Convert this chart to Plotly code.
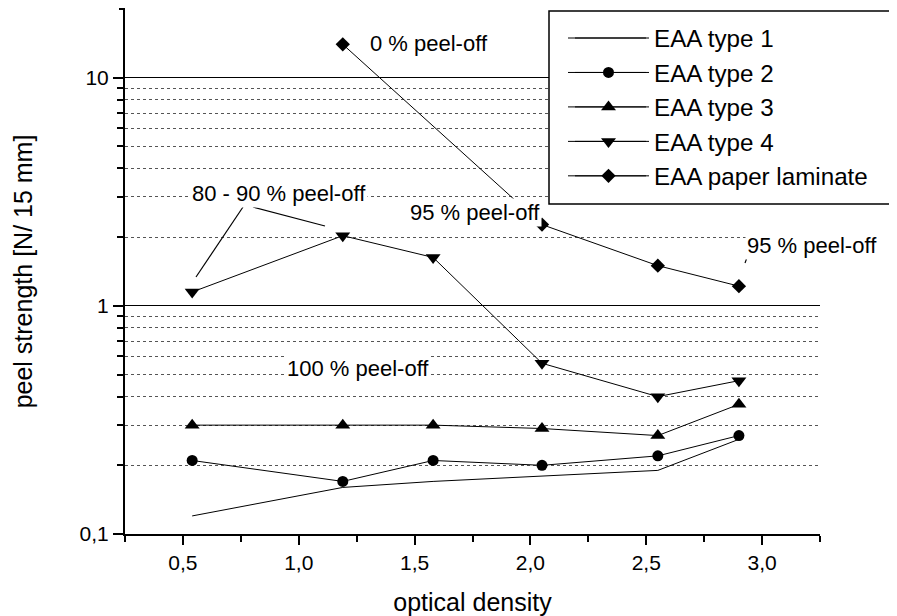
import plotly.graph_objects as go
import math

# ---------------- data ----------------
optical_density = [0.54, 1.19, 1.58, 2.05, 2.55, 2.90]
eaa_type1 = [0.12, 0.16, 0.17, 0.18, 0.19, 0.26]
eaa_type2 = [0.21, 0.17, 0.21, 0.20, 0.22, 0.27]
eaa_type3 = [0.30, 0.30, 0.30, 0.29, 0.27, 0.37]
eaa_type4 = [1.15, 2.03, 1.63, 0.56, 0.40, 0.47]
laminate_density = [1.19, 2.05, 2.55, 2.90]
eaa_laminate = [14.0, 2.27, 1.50, 1.22]

x_tickvals = [0.5, 1.0, 1.5, 2.0, 2.5, 3.0]
y_tickvals = [0.1, 1, 10]
y_ticktext = ["0,1", "1", "10"]
y_minorvals = [0.2, 0.3, 0.4, 0.5, 0.6, 0.7, 0.8, 0.9, 2, 3, 4, 5, 6, 7, 8, 9]

FONT = "Arial, 'Liberation Sans', sans-serif"

fig = go.Figure()
line_style = dict(color="black", width=1)

fig.add_trace(go.Scatter(x=optical_density, y=eaa_type1, name="EAA type 1", mode="lines",
                         line=line_style))
fig.add_trace(go.Scatter(x=optical_density, y=eaa_type2, name="EAA type 2", mode="lines+markers",
                         line=line_style, marker=dict(symbol="circle", size=11, color="black")))
fig.add_trace(go.Scatter(x=optical_density, y=eaa_type3, name="EAA type 3", mode="lines+markers",
                         line=line_style, marker=dict(symbol="triangle-up", size=13, color="black")))
fig.add_trace(go.Scatter(x=optical_density, y=eaa_type4, name="EAA type 4", mode="lines+markers",
                         line=line_style, marker=dict(symbol="triangle-down", size=13, color="black")))
fig.add_trace(go.Scatter(x=laminate_density, y=eaa_laminate, name="EAA paper laminate",
                         mode="lines+markers", line=line_style,
                         marker=dict(symbol="diamond", size=11, color="black")))

# page has an 8px body margin: figure is drawn at page offset (8, 8)
OFF = 8
FIG_W, FIG_H = 897 - OFF, 616 - OFF
# plot area in page pixels: x 125..820, y 9..534
L, R, T, B = 125, 820, 9, 534
W, H = R - L, B - T


def px(xp):
    return (xp - L) / W


def py(yp):
    return (B - yp) / H


# legend geometry (plotly: item height = 1.3*font + 3, first centre = top + 5 + h/2)
LEG_FS = 24.2
LEG_H = 1.3 * LEG_FS + 3
LEG_TOP = 38 - 5 - LEG_H / 2
legend_rows_y = [LEG_TOP + 5 + LEG_H * (i + 0.5) for i in range(5)]

# legend frame (white box with black border) and longer legend line samples
fig.add_shape(type="rect", xref="paper", yref="paper", x0=px(549), x1=px(897), y0=py(204), y1=py(11),
              fillcolor="white", line=dict(color="black", width=1.5), layer="above")
for ry in legend_rows_y:
    fig.add_shape(type="line", xref="paper", yref="paper", x0=px(575), x1=px(646),
                  y0=py(ry), y1=py(ry), line=dict(color="black", width=1), layer="above")

ann_font = dict(family=FONT, size=22, color="black")
labels = [
    ("0 % peel-off", 429, 44, "rgba(0,0,0,0)"),
    ("80 - 90 % peel-off", 278.5, 193, "white"),
    ("95 % peel-off", 475, 212.5, "white"),
    ("100 % peel-off", 357.5, 368, "white"),
    ("95 % peel-off", 811.5, 246, "white"),
]
for text, xx, yy, bg in labels:
    fig.add_annotation(text=text, x=px(xx), y=py(yy), xref="paper", yref="paper",
                       showarrow=False, font=ann_font, bgcolor=bg, borderpad=1,
                       xanchor="center", yanchor="middle")

leaders = [((243, 207), (196, 277)), ((253, 207), (325, 226)), ((748, 255), (745, 263))]
for (x0, y0), (x1, y1) in leaders:
    fig.add_shape(type="line", xref="paper", yref="paper", x0=px(x0), y0=py(y0),
                  x1=px(x1), y1=py(y1), line=dict(color="black", width=1.2), layer="above")

# tick at the top end of the y axis (value 20)
fig.add_shape(type="line", xref="paper", yref="paper", x0=-6 / W, x1=0, y0=1, y1=1,
              line=dict(color="black", width=2))

fig.update_layout(
    width=FIG_W, height=FIG_H,
    margin=dict(l=L - OFF, r=FIG_W - (R - OFF), t=T - OFF, b=FIG_H - (B - OFF)),
    plot_bgcolor="white", paper_bgcolor="white",
    font=dict(family=FONT, size=21, color="black"),
    separators=",.",
    showlegend=True,
    legend=dict(x=px(563), y=py(LEG_TOP), xanchor="left", yanchor="top",
                bgcolor="rgba(0,0,0,0)", borderwidth=0,
                font=dict(family=FONT, size=LEG_FS, color="black"),
                itemwidth=81, traceorder="normal"),
    xaxis=dict(range=[0.25, 3.25], tickvals=x_tickvals, tickformat=".1f",
               showline=True, linecolor="black", linewidth=2,
               ticks="outside", ticklen=9, tickwidth=2, tickcolor="black",
               showgrid=False, zeroline=False,
               minor=dict(dtick=0.25, tick0=0.25, ticks="outside", ticklen=6, tickwidth=2,
                          tickcolor="black", showgrid=False),
               title=dict(text="optical density", font=dict(size=25), standoff=22)),
    yaxis=dict(type="log", range=[-1, math.log10(20)], tickvals=y_tickvals, ticktext=y_ticktext,
               showline=True, linecolor="black", linewidth=2,
               ticks="outside", ticklen=10, tickwidth=2, tickcolor="black",
               showgrid=True, gridcolor="black", gridwidth=1, zeroline=False,
               minor=dict(tickvals=y_minorvals, ticks="outside", ticklen=6, tickwidth=2,
                          tickcolor="black", showgrid=True, gridcolor="#555555",
                          gridwidth=1, griddash="dot"),
               title=dict(text="peel strength [N/ 15 mm]", font=dict(size=25), standoff=40)),
)

fig.write_html("out.html")
